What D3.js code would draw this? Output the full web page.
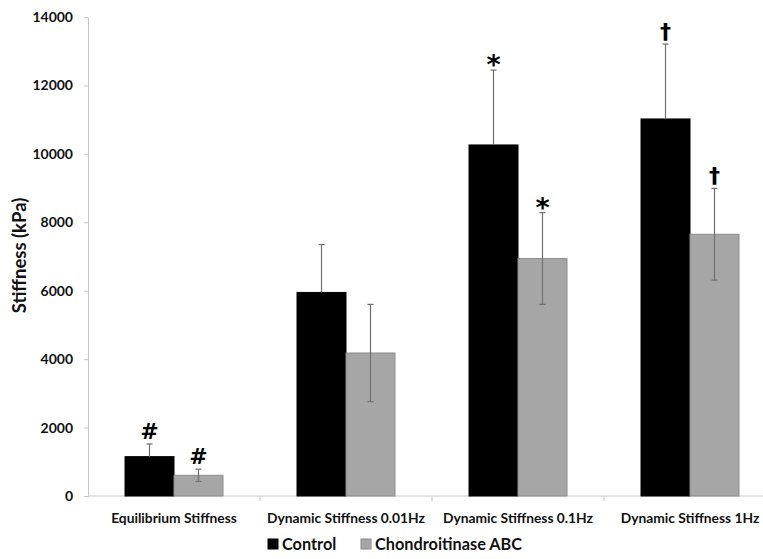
<!DOCTYPE html>
<html>
<head>
<meta charset="utf-8">
<script src="https://cdn.jsdelivr.net/npm/d3@7/dist/d3.min.js"></script>
<style>
  html, body { margin: 0; padding: 0; background: #fff; }
  svg { display: block; font-family: Lato, "Open Sans", sans-serif; }
</style>
</head>
<body>
<svg id="chart" width="763" height="559"></svg>
<script>
// Measurement categories and the two treatment groups
const categories = ["Equilibrium Stiffness", "Dynamic Stiffness 0.01Hz", "Dynamic Stiffness 0.1Hz", "Dynamic Stiffness 1Hz"];
const seriesNames = ["Control", "Chondroitinase ABC"];
const controlValues = [1150, 5950, 10260, 11020];
const controlErrors = [370, 1400, 2190, 2190];
const abcValues = [605, 4180, 6940, 7650];
const abcErrors = [180, 1420, 1340, 1340];
const controlMarks = ["#", "", "*", "†"];
const abcMarks = ["#", "", "*", "†"];
const yTicks = [0, 2000, 4000, 6000, 8000, 10000, 12000, 14000];

const seriesColors = ["#000000", "#a6a6a6"];

const svg = d3.select("#chart");
const plot = { left: 88, right: 776, top: 17, bottom: 496 };

const y = d3.scaleLinear().domain([0, 14000]).range([plot.bottom, plot.top]);
const x0 = d3.scaleBand().domain(categories).range([plot.left, plot.right]).paddingInner(0).paddingOuter(0);
const x1 = d3.scaleBand().domain(seriesNames).range([0, x0.bandwidth()]).paddingOuter(0.7553).paddingInner(0);

const rows = categories.map((c, i) => ({
  category: c,
  bars: [
    { series: seriesNames[0], value: controlValues[i], err: controlErrors[i], mark: controlMarks[i], idx: 0 },
    { series: seriesNames[1], value: abcValues[i], err: abcErrors[i], mark: abcMarks[i], idx: 1 }
  ]
}));

// Y axis
const yAxis = d3.axisLeft(y).tickValues(yTicks).tickSize(4).tickPadding(11).tickFormat(d3.format("d"));
const gy = svg.append("g").attr("transform", `translate(${plot.left},0)`).call(yAxis);
gy.select(".domain").attr("stroke", "#c8c8c8");
gy.selectAll(".tick line").attr("stroke", "#c8c8c8");
gy.selectAll(".tick text").attr("fill", "#111").style("font-size", "14px").style("font-weight", "bold")
  .style("font-family", "Lato, 'Open Sans', sans-serif");

// X axis with category boundary ticks
const gx = svg.append("g").attr("transform", `translate(0,${plot.bottom})`);
gx.append("line").attr("x1", plot.left).attr("x2", plot.right).attr("stroke", "#c8c8c8");
gx.selectAll("line.bound").data(categories.slice(1)).join("line").attr("class", "bound")
  .attr("x1", d => x0(d)).attr("x2", d => x0(d)).attr("y1", 0).attr("y2", 5).attr("stroke", "#c8c8c8");
gx.selectAll("text.cat").data(categories).join("text").attr("class", "cat")
  .attr("x", d => x0(d) + x0.bandwidth() / 2).attr("y", 27)
  .attr("text-anchor", "middle").attr("fill", "#111")
  .style("font-size", "13.8px").style("font-weight", "bold")
  .text(d => d);

// Bars and error bars
const groups = svg.append("g").selectAll("g.group").data(rows).join("g")
  .attr("class", "group").attr("transform", d => `translate(${x0(d.category)},0)`);

groups.selectAll("rect").data(d => d.bars).join("rect")
  .attr("x", d => x1(d.series)).attr("width", x1.bandwidth())
  .attr("y", d => y(d.value)).attr("height", d => y(0) - y(d.value))
  .attr("fill", d => seriesColors[d.idx])
  .attr("stroke", d => d.idx === 0 ? "#000" : "#8c8c8c").attr("stroke-width", 1);

const eb = groups.selectAll("g.err").data(d => d.bars).join("g").attr("class", "err")
  .attr("transform", d => `translate(${x1(d.series) + x1.bandwidth() / 2},0)`);
eb.append("line")
  .attr("y1", d => d.idx === 0 ? y(d.value) : y(d.value - d.err))
  .attr("y2", d => y(d.value + d.err))
  .attr("stroke", "#707070").attr("stroke-width", 1.2);
eb.append("line").attr("x1", -3).attr("x2", 3)
  .attr("y1", d => y(d.value + d.err)).attr("y2", d => y(d.value + d.err))
  .attr("stroke", "#707070").attr("stroke-width", 1.2);
eb.filter(d => d.idx !== 0).append("line").attr("x1", -3).attr("x2", 3)
  .attr("y1", d => y(d.value - d.err)).attr("y2", d => y(d.value - d.err))
  .attr("stroke", "#707070").attr("stroke-width", 1.2);

// Significance marks above error bars
eb.filter(d => d.mark).append("text")
  .attr("y", d => y(d.value + d.err) + (d.mark === "*" ? 4 : -5))
  .attr("text-anchor", "middle").attr("fill", "#000")
  .style("font-size", d => d.mark === "*" ? "27px" : "22px")
  .style("font-weight", "bold")
  .style("font-family", "'DejaVu Sans', sans-serif")
  .text(d => d.mark);

// Y axis title
svg.append("text")
  .attr("transform", `translate(26,${(plot.top + plot.bottom) / 2 - 1}) rotate(-90)`)
  .attr("text-anchor", "middle").attr("fill", "#111")
  .style("font-size", "18.5px").style("font-weight", "bold")
  .text("Stiffness (kPa)");

// Legend
const legend = svg.append("g").attr("transform", "translate(268,544)");
const legendX = [0, 93];
const li = legend.selectAll("g").data(seriesNames).join("g")
  .attr("transform", (d, i) => `translate(${legendX[i]},0)`);
li.append("rect").attr("x", 0).attr("y", -5).attr("width", 10).attr("height", 10)
  .attr("fill", (d, i) => seriesColors[i]).attr("stroke", (d, i) => i === 0 ? "#000" : "#8c8c8c");
li.append("text").attr("x", 14).attr("y", 0).attr("dy", "0.36em")
  .attr("fill", "#111").style("font-size", "16.3px").style("font-weight", "bold")
  .text(d => d);
</script>
</body>
</html>
